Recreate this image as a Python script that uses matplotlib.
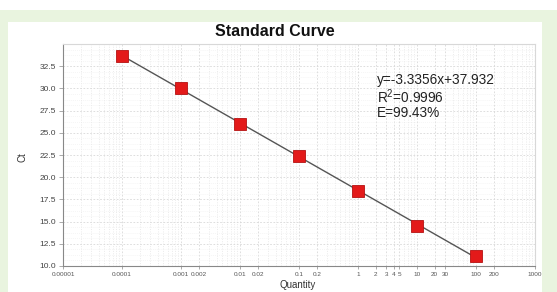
import numpy as np
import matplotlib
matplotlib.use("Agg")
import matplotlib.pyplot as plt
from matplotlib.patches import Rectangle
from matplotlib.ticker import FixedLocator, NullFormatter

plt.rcParams['font.family'] = ['Liberation Sans', 'DejaVu Sans']
plt.rcParams['mathtext.fontset'] = 'custom'
plt.rcParams['mathtext.rm'] = 'Liberation Sans'

quantity = [0.0001, 0.001, 0.01, 0.1, 1, 10, 100]
ct = [33.6, 30.1, 26.0, 22.4, 18.5, 14.5, 11.1]

xtick_vals = [1e-5, 1e-4, 1e-3, 2e-3, 0.01, 0.02, 0.1, 0.2, 1, 2, 3, 4, 5, 10, 20, 30, 100, 200, 1000]
xtick_labels = ["0.00001", "0.0001", "0.001", "0.002", "0.01", "0.02", "0.1", "0.2",
                "1", "2", "3", "4", "5", "10", "20", "30", "100", "200", "1000"]
ytick_vals = [10.0, 12.5, 15.0, 17.5, 20.0, 22.5, 25.0, 27.5, 30.0, 32.5]
equation_lines = ["y=-3.3356x+37.932", "R$^{2}$=0.9996", "E=99.43%"]

W, H = 557, 292
fig = plt.figure(figsize=(W / 100, H / 100), dpi=100)
fig.patch.set_facecolor("white")

# background panels
fig.add_artist(Rectangle((0, 0), 1, 1 - 10 / H, transform=fig.transFigure,
                         facecolor="#e9f4df", edgecolor="none", zorder=-10))
fig.add_artist(Rectangle((8 / W, 0), (542 - 8) / W, 1 - 22 / H, transform=fig.transFigure,
                         facecolor="white", edgecolor="none", zorder=-9))

ax = fig.add_axes([63 / W, 1 - 266 / H, (535 - 63) / W, (266 - 44) / H])
ax.set_facecolor("white")
ax.set_xscale("log")
ax.set_xlim(1e-5, 1000)
ax.set_ylim(10.0, 35.0)

# fit line
lx = np.log10(quantity)
coef = np.polyfit(lx, ct, 1)
xs = np.array([quantity[0], quantity[-1]])
ax.plot(xs, coef[0] * np.log10(xs) + coef[1], color="#555555", lw=1.0, zorder=3)
ax.plot(quantity, ct, linestyle="none", marker="s", markersize=8.3,
        markerfacecolor="#e31a1a", markeredgecolor="#b51212", markeredgewidth=0.6, zorder=4)

ax.xaxis.set_major_locator(FixedLocator(xtick_vals))
ax.set_xticklabels(xtick_labels)
minor = [m * 10.0 ** e for e in range(-5, 3) for m in range(2, 10)]
ax.xaxis.set_minor_locator(FixedLocator(minor))
ax.xaxis.set_minor_formatter(NullFormatter())
ax.set_yticks(ytick_vals)
ax.set_yticklabels([f"{v:.1f}" for v in ytick_vals])
ax.yaxis.set_minor_locator(FixedLocator(np.arange(10.0, 35.01, 0.625)))

ax.tick_params(axis="x", which="major", labelsize=4.6, length=2, width=0.5,
               colors="#888888", labelcolor="#555555", pad=2.5)
ax.tick_params(axis="x", which="minor", length=0)
ax.tick_params(axis="y", which="major", labelsize=6, length=3, width=0.5,
               colors="#888888", labelcolor="#444444", pad=2)
ax.tick_params(axis="y", which="minor", length=0)

ax.grid(True, which="major", axis="both", color="#d8d8d8", lw=0.6, linestyle=(0, (2, 2)))
ax.grid(True, which="minor", axis="x", color="#e4e4e4", lw=0.5, linestyle=(0, (1.5, 2)))
ax.grid(True, which="minor", axis="y", color="#ececec", lw=0.4, linestyle=(0, (1.5, 2)))
ax.set_axisbelow(True)

for s in ["left", "bottom"]:
    ax.spines[s].set_color("#888888")
    ax.spines[s].set_linewidth(0.8)
for s in ["top", "right"]:
    ax.spines[s].set_color("#d8d8d8")
    ax.spines[s].set_linewidth(0.8)

fig.text(275 / W, 1 - 31 / H, "Standard Curve", ha="center", va="center",
         fontsize=11.5, fontweight="bold", color="#111111")
fig.text(22 / W, 1 - 157 / H, "Ct", ha="center", va="center", rotation=90,
         fontsize=7, color="#333333")
fig.text(298 / W, 1 - 285 / H, "Quantity", ha="center", va="center",
         fontsize=7, color="#333333")

for i, t in enumerate(equation_lines):
    fig.text(377 / W, 1 - (80 + 16.5 * i) / H, t, ha="left", va="center",
             fontsize=9.8, color="#222222")

fig.savefig("out.png", dpi=100)
